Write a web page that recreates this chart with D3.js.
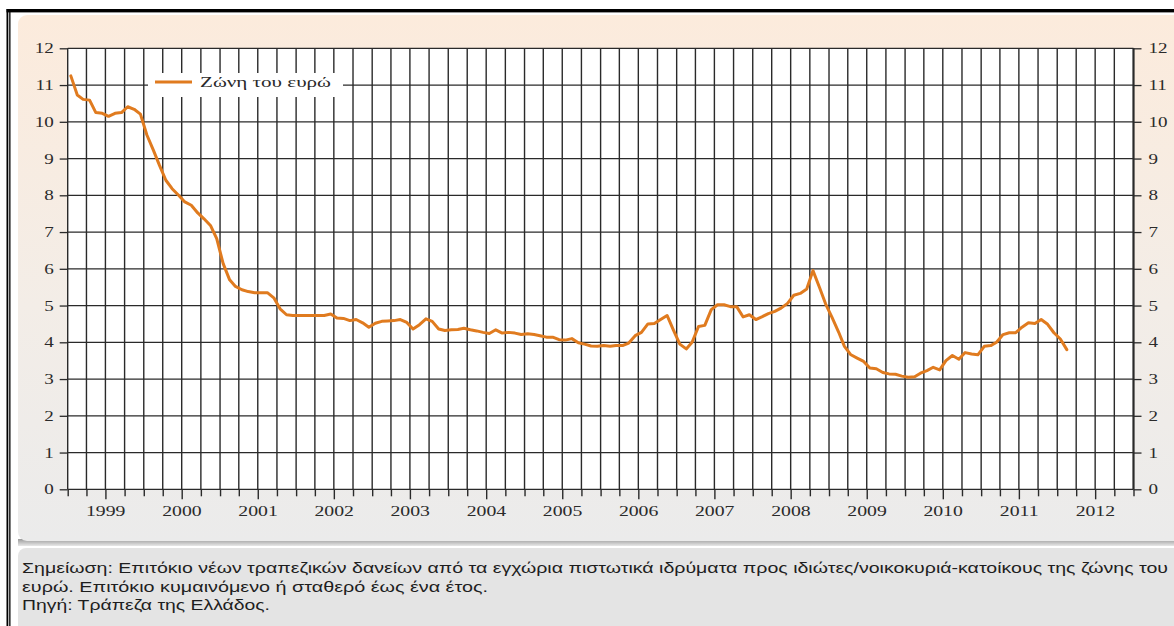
<!DOCTYPE html>
<html>
<head>
<meta charset="utf-8">
<script src="https://cdn.jsdelivr.net/npm/d3@7"></script>
<style>
  html, body { margin: 0; padding: 0; background: #ffffff; }
  svg { display: block; }
</style>
</head>
<body>
<svg id="chart" width="1174" height="626"></svg>
<script>
// ---------------- data ----------------
const seriesName = "Ζώνη του ευρώ";
const firstMonth = "1999-01";
// monthly rate, Jan 1999 .. Feb 2012 (%)
const rates = [
  11.25, 10.73, 10.61, 10.59, 10.25, 10.23, 10.15, 10.23, 10.25, 10.41, 10.34, 10.21,
  9.64, 9.23, 8.82, 8.41, 8.18, 8.00, 7.82, 7.73, 7.52, 7.36, 7.18, 6.82,
  6.14, 5.70, 5.52, 5.43, 5.38, 5.35, 5.35, 5.35, 5.21, 4.91, 4.75, 4.73,
  4.73, 4.73, 4.73, 4.73, 4.73, 4.77, 4.66, 4.65, 4.59, 4.62, 4.53, 4.41,
  4.52, 4.57, 4.58, 4.59, 4.62, 4.54, 4.36, 4.48, 4.64, 4.57, 4.36, 4.32,
  4.34, 4.35, 4.38, 4.34, 4.31, 4.27, 4.24, 4.34, 4.25, 4.27, 4.25, 4.21,
  4.23, 4.21, 4.18, 4.14, 4.14, 4.07, 4.06, 4.10, 3.99, 3.95, 3.90, 3.89,
  3.91, 3.89, 3.91, 3.91, 3.98, 4.18, 4.27, 4.50, 4.51, 4.62, 4.73, 4.34,
  3.95, 3.82, 4.00, 4.43, 4.46, 4.89, 5.02, 5.02, 4.97, 4.97, 4.69, 4.75,
  4.62, 4.70, 4.78, 4.84, 4.93, 5.06, 5.28, 5.33, 5.45, 5.95, 5.50, 5.04,
  4.67, 4.28, 3.89, 3.66, 3.57, 3.48, 3.30, 3.28, 3.18, 3.14, 3.13, 3.08,
  3.05, 3.06, 3.16, 3.23, 3.32, 3.25, 3.50, 3.64, 3.54, 3.72, 3.68, 3.66,
  3.89, 3.91, 4.00, 4.21, 4.26, 4.26, 4.41, 4.53, 4.51, 4.62, 4.49, 4.26,
  4.09, 3.80
];
const yearLabels = ["1999","2000","2001","2002","2003","2004","2005","2006","2007","2008","2009","2010","2011","2012"];
const yTickValues = [0,1,2,3,4,5,6,7,8,9,10,11,12];
const noteLines = [
  "Σημείωση: Επιτόκιο νέων τραπεζικών δανείων από τα εγχώρια πιστωτικά ιδρύματα προς ιδιώτες/νοικοκυριά-κατοίκους της ζώνης του",
  "ευρώ. Επιτόκιο κυμαινόμενο ή σταθερό έως ένα έτος.",
  "Πηγή: Τράπεζα της Ελλάδος."
];

// ---------------- layout ----------------
const W = 1174, H = 626;
const plot = { left: 67.7, right: 1133.5, top: 48.3, bottom: 489.3 };
const lineColor = "#e07b1f";
const gridColor = "#2a2a2a";
const textColor = "#2a2a2a";
const STRETCH = 1.36;

const svg = d3.select("#chart");
const defs = svg.append("defs");
const grad = defs.append("linearGradient").attr("id", "panelGrad")
  .attr("x1", 0).attr("y1", 0).attr("x2", 0).attr("y2", 1);
grad.append("stop").attr("offset", "0%").attr("stop-color", "#fcebdc");
grad.append("stop").attr("offset", "55%").attr("stop-color", "#f3ede7");
grad.append("stop").attr("offset", "100%").attr("stop-color", "#ebebeb");

const shadow = defs.append("linearGradient").attr("id", "shadowGrad")
  .attr("x1", 0).attr("y1", 0).attr("x2", 0).attr("y2", 1);
shadow.append("stop").attr("offset", "0%").attr("stop-color", "#9a9a9a");
shadow.append("stop").attr("offset", "100%").attr("stop-color", "#e8e8e8");

// background
svg.append("rect").attr("width", W).attr("height", H).attr("fill", "#ffffff");

// chart panel
svg.append("rect").attr("x", 18).attr("y", 539).attr("width", W).attr("height", 7)
  .attr("fill", "url(#shadowGrad)");
svg.append("rect").attr("x", 18).attr("y", 15).attr("width", W).attr("height", 526)
  .attr("rx", 9).attr("fill", "url(#panelGrad)");

// note panel
svg.append("rect").attr("x", 18).attr("y", 548).attr("width", W).attr("height", 90)
  .attr("rx", 8).attr("fill", "#e4e4e4");

// outer frame
svg.append("rect").attr("x", 6.5).attr("y", 9).attr("width", W).attr("height", 3.4).attr("fill", "#000");
svg.append("rect").attr("x", 6.5).attr("y", 9).attr("width", 1.8).attr("height", H).attr("fill", "#000");
svg.append("rect").attr("x", 9.2).attr("y", 9).attr("width", 1.3).attr("height", H).attr("fill", "#000");

// ---------------- scales ----------------
const parseMonth = d3.timeParse("%Y-%m");
const start = parseMonth(firstMonth);
const x = d3.scaleTime()
  .domain([new Date(1999, 0, 1), new Date(2013, 0, 1)])
  .range([plot.left, plot.right]);
const y = d3.scaleLinear().domain([0, 12]).range([plot.bottom, plot.top]);

const points = rates.map((v, i) => ({ date: d3.timeDay.offset(d3.timeMonth.offset(start, i), 15), value: v }));

function stretch(sel, f) {
  sel.each(function () {
    const w = this.getComputedTextLength();
    this.setAttribute("textLength", (w * f).toFixed(2));
    this.setAttribute("lengthAdjust", "spacingAndGlyphs");
  });
}

// plot area
svg.append("rect").attr("x", plot.left).attr("y", plot.top)
  .attr("width", plot.right - plot.left).attr("height", plot.bottom - plot.top)
  .attr("fill", "#ffffff");

// grid
const quarters = d3.timeMonth.every(3).range(new Date(1999, 0, 1), new Date(2013, 0, 2));
const grid = svg.append("g");
grid.selectAll("line.v").data(quarters).join("line")
  .attr("x1", d => x(d)).attr("x2", d => x(d))
  .attr("y1", plot.top).attr("y2", plot.bottom)
  .attr("stroke", gridColor).attr("stroke-width", 1.4);
grid.selectAll("line.h").data(yTickValues).join("line")
  .attr("x1", plot.left).attr("x2", plot.right)
  .attr("y1", d => y(d)).attr("y2", d => y(d))
  .attr("stroke", gridColor).attr("stroke-width", 1.3);
// right axis emphasis
svg.append("line").attr("x1", plot.right).attr("x2", plot.right)
  .attr("y1", plot.top).attr("y2", plot.bottom)
  .attr("stroke", gridColor).attr("stroke-width", 2);

// ---------------- axes ----------------
const fontSerif = "'Liberation Serif', 'DejaVu Serif', serif";

const yLeft = svg.append("g").attr("transform", `translate(${plot.left},0)`)
  .call(d3.axisLeft(y).tickValues(yTickValues).tickSize(8).tickPadding(7).tickFormat(d3.format("d")));
const yRight = svg.append("g").attr("transform", `translate(${plot.right},0)`)
  .call(d3.axisRight(y).tickValues(yTickValues).tickSize(8).tickPadding(7).tickFormat(d3.format("d")));
[yLeft, yRight].forEach(g => {
  g.select(".domain").remove();
  g.selectAll(".tick line").attr("stroke", gridColor).attr("stroke-width", 1.3);
  g.selectAll(".tick text").attr("fill", textColor).attr("font-family", fontSerif).attr("font-size", 14);
});
yLeft.selectAll(".tick text").attr("x", -14);
yRight.selectAll(".tick text").attr("x", 15);
stretch(yLeft.selectAll(".tick text"), STRETCH);
stretch(yRight.selectAll(".tick text"), STRETCH);

// x axis ticks (quarterly, long at year boundaries)
const xAxis = svg.append("g").attr("transform", `translate(0,${plot.bottom})`)
  .call(d3.axisBottom(x).tickValues(quarters).tickSize(7).tickFormat(""));
xAxis.select(".domain").remove();
xAxis.selectAll(".tick line")
  .attr("stroke", gridColor).attr("stroke-width", 1.4)
  .attr("y2", d => d.getMonth() === 6 ? 10 : 7);

// year labels centred in each year
const yearG = svg.append("g");
yearG.selectAll("text").data(yearLabels).join("text")
  .attr("x", d => (x(new Date(+d, 0, 1)) + x(new Date(+d + 1, 0, 1))) / 2)
  .attr("y", 515.5)
  .attr("text-anchor", "middle")
  .attr("fill", textColor).attr("font-family", fontSerif).attr("font-size", 14.5)
  .text(d => d);
stretch(yearG.selectAll("text"), STRETCH);

// ---------------- legend ----------------
const legend = svg.append("g");
legend.append("rect").attr("x", 148).attr("y", 73).attr("width", 195).attr("height", 24).attr("fill", "#ffffff");
legend.append("line").attr("x1", 155).attr("x2", 192).attr("y1", 82).attr("y2", 82)
  .attr("stroke", lineColor).attr("stroke-width", 3.2);
const legText = legend.append("text").attr("x", 200).attr("y", 87)
  .attr("fill", textColor).attr("font-family", fontSerif).attr("font-size", 15.5)
  .text(seriesName);
stretch(legText, STRETCH);

// ---------------- line ----------------
const lineGen = d3.line().x(d => x(d.date)).y(d => y(d.value)).curve(d3.curveLinear);
svg.append("path").datum(points)
  .attr("d", lineGen)
  .attr("fill", "none").attr("stroke", lineColor).attr("stroke-width", 3)
  .attr("stroke-linejoin", "round").attr("stroke-linecap", "round");

// ---------------- note ----------------
const noteWidths = [1146, 466, 248];
const noteBase = [573, 592, 610];
const noteG = svg.append("g");
noteG.selectAll("text").data(noteLines).join("text")
  .attr("x", 22).attr("y", (d, i) => noteBase[i])
  .attr("fill", "#1e1e1e")
  .attr("font-family", "'Liberation Sans', 'DejaVu Sans', sans-serif").attr("font-size", 14)
  .attr("textLength", (d, i) => noteWidths[i]).attr("lengthAdjust", "spacingAndGlyphs")
  .text(d => d);
</script>
</body>
</html>
